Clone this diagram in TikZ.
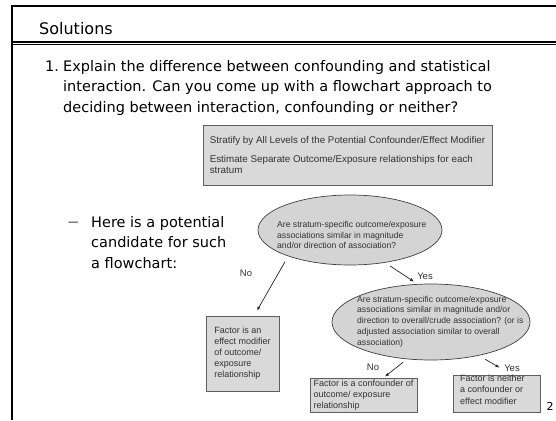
\documentclass[tikz,border=0pt]{standalone}
\usepackage{fontspec}
\setmainfont{DejaVu Sans}
\newfontfamily\arialf{Liberation Sans}
\usetikzlibrary{shapes.geometric,arrows.meta}
\definecolor{boxfill}{RGB}{217,217,217}
\definecolor{ellfill}{RGB}{212,212,212}
\definecolor{boxline}{RGB}{95,95,95}
\definecolor{flowtext}{RGB}{50,50,50}
\tikzset{
  titletext/.style={anchor=base west, inner sep=0, font=\fontsize{16}{19}\selectfont},
  body/.style={anchor=base west, inner sep=0, font=\fontsize{14.5}{17}\selectfont},
  fbox/.style={rectangle, draw=boxline, fill=boxfill, line width=0.8pt, align=left,
    inner sep=0, text=flowtext, font=\arialf\fontsize{9}{11}\selectfont},
  boxtext/.style={anchor=north west, inner sep=0, align=left, text=flowtext,
    font=\arialf\fontsize{9}{11.5}\selectfont},
  ell/.style={ellipse, draw=black!75, fill=ellfill, line width=0.7pt, inner sep=0},
  elltext/.style={anchor=west, inner sep=0, align=left, text=flowtext,
    font=\arialf\fontsize{8.6}{10.8}\selectfont},
  lbl/.style={inner sep=0, text=flowtext, font=\arialf\fontsize{9.5}{11}\selectfont},
  arr/.style={-{Latex[length=4pt,width=3.2pt]}, line width=0.7pt, draw=black!85},
  frameline/.style={draw=black}
}
\begin{document}
\begin{tikzpicture}[x=1pt,y=-1pt]
\useasboundingbox (0,0) rectangle (556,420);
% slide frame
\draw[frameline, line width=2.2pt] (11.8,420) -- (11.8,5.8) -- (556,5.8);
\draw[frameline, line width=1.6pt] (11.8,41.8) -- (556,41.8);
\draw[frameline, line width=0.9pt] (11.8,44.4) -- (556,44.4);
% title
\node[titletext] (title) at (39,35) {Solutions};
% item 1
\node[body] (num) at (45,71) {1.};
\node[body] (l1) at (63,71) {Explain the difference between confounding and statistical};
\node[body] (l2) at (63,91.5) {interaction. Can you come up with a flowchart approach to};
\node[body] (l3) at (63,112) {deciding between interaction, confounding or neither?};
% sub item
\node[body, font=\fontsize{10.5}{12}\selectfont] (dash) at (68,225) {—};
\node[body] (s1) at (91,227) {Here is a potential};
\node[body] (s2) at (91,247) {candidate for such};
\node[body] (s3) at (91,268) {a flowchart:};
% flowchart
\node[fbox, minimum width=289pt, minimum height=60pt,
  font=\arialf\fontsize{9.8}{10.5}\selectfont] (strat) at (347.5,155)
  {Stratify by All Levels of the Potential Confounder/Effect Modifier\\[8.5pt]Estimate Separate Outcome/Exposure relationships for each\\stratum};
\node[ell, minimum width=184pt, minimum height=70pt] (e1) at (350,230) {};
\node[elltext] (e1t) at (277,235) {Are stratum-specific outcome/exposure\\associations similar in magnitude\\and/or direction of association?};
\node[ell, minimum width=198pt, minimum height=76pt] (e2) at (431,322) {};
\node[elltext] (e2t) at (357,321.5) {Are stratum-specific outcome/exposure\\associations similar in magnitude and/or\\direction to overall/crude association? (or is\\adjusted association similar to overall\\association)};
\node[fbox, minimum width=73pt, minimum height=75pt] (eff) at (242.5,353.5)
  {Factor is an\\effect modifier\\of outcome/\\exposure\\relationship};
\node[fbox, minimum width=107pt, minimum height=34pt] (conf) at (363.5,395)
  {Factor is a confounder of\\outcome/ exposure\\relationship};
\node[fbox, minimum width=87pt, minimum height=37pt] (neith) at (496.5,393.5) {};
\node[boxtext] (neitht) at (460,374.5) {Factor is neither\\a confounder or\\effect modifier};
% connectors
\draw[arr, shorten <=6pt] (e1.203) -- ([xshift=14.5pt,yshift=5pt]eff.north);
\draw[arr, shorten <=6pt] (e1.317) -- ([xshift=-17pt,yshift=2pt]e2.north);
\draw[arr, shorten <=5pt] (e2.237) -- ([xshift=21.5pt,yshift=1pt]conf.north);
\draw[arr, shorten <=7pt] (e2.325) -- ([xshift=3pt,yshift=7pt]neith.north);
% labels
\node[lbl] (no1) at (246,273) {No};
\node[lbl] (yes1) at (425,276) {Yes};
\node[lbl] (no2) at (373,367) {No};
\node[lbl] (yes2) at (512,368) {Yes};
% page number
\node[inner sep=0, font=\fontsize{11}{13}\selectfont] (pg) at (550,406) {2};
\end{tikzpicture}
\end{document}
